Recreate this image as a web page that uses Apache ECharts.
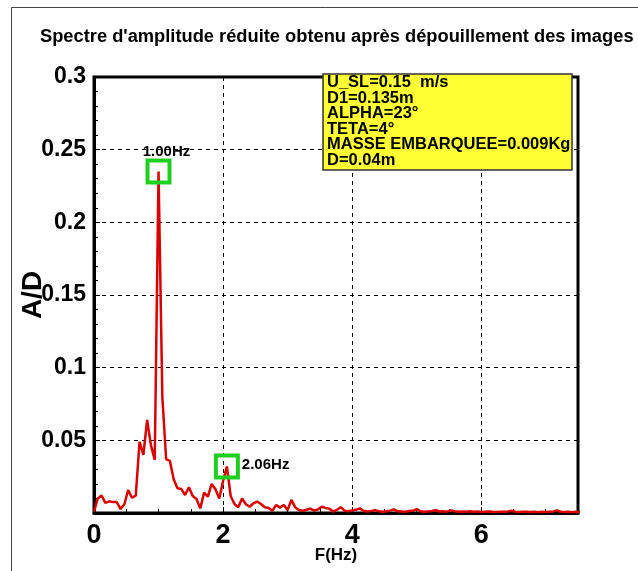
<!DOCTYPE html>
<html>
<head>
<meta charset="utf-8">
<script src="https://cdn.jsdelivr.net/npm/echarts@6/dist/echarts.min.js"></script>
<style>
  html, body { margin: 0; padding: 0; background: #fff; }
  #chart { width: 638px; height: 571px; }
</style>
</head>
<body>
<div id="chart"></div>
<script>
// Spectrum sampled every 1/17 Hz
const DF = 1 / 17;
const amplitude = [
  0.001, 0.010, 0.012, 0.007, 0.008, 0.0075, 0.0075, 0.0027, 0.006, 0.0158,
  0.0105, 0.012, 0.049, 0.040, 0.064, 0.0465, 0.0366, 0.235, 0.08, 0.037,
  0.0358, 0.023, 0.017, 0.0165, 0.0124, 0.0177, 0.0117, 0.0096, 0.0032, 0.014,
  0.0112, 0.020, 0.0163, 0.010, 0.022, 0.032, 0.0117, 0.0062, 0.0039, 0.010,
  0.006, 0.0043, 0.0067, 0.0078, 0.0062, 0.004, 0.0035, 0.0016, 0.0055, 0.0037,
  0.0055, 0.002, 0.009, 0.0039, 0.002, 0.0016, 0.0022, 0.003, 0.0016, 0.0025,
  0.0043, 0.0035, 0.003, 0.001, 0.0022, 0.004, 0.0016, 0.0012, 0.0018, 0.0022,
  0.0032, 0.0015, 0.001, 0.0013, 0.002, 0.0012, 0.0009, 0.0012, 0.0016, 0.0025,
  0.0012, 0.001, 0.0008, 0.0014, 0.0015, 0.0027, 0.0012, 0.0008, 0.0011, 0.0014,
  0.0019, 0.001, 0.0012, 0.0009, 0.0018, 0.0012, 0.0008, 0.001, 0.0009, 0.0012,
  0.0008, 0.001, 0.0007, 0.0009, 0.0011, 0.0008, 0.0007, 0.0009, 0.0008, 0.0011,
  0.0015, 0.0009, 0.0007, 0.0008, 0.0009, 0.0007, 0.0008, 0.0006, 0.0008, 0.0007,
  0.0009, 0.0011, 0.0017, 0.0009, 0.0007, 0.0008, 0.0006, 0.0008, 0.0007
];
// Indices of the highlighted peaks
const peakIndex = [17, 35];
const xTicks = [0, 2, 4, 6];
const yTicks = [0.05, 0.1, 0.15, 0.2, 0.25, 0.3];
const infoLines = [
  'U_SL=0.15  m/s',
  'D1=0.135m',
  'ALPHA=23°',
  'TETA=4°',
  'MASSE EMBARQUEE=0.009Kg',
  'D=0.04m'
];

const FONT = '"Liberation Sans", Arial, sans-serif';
const lineData = amplitude.map((a, i) => [i * DF, a]);

const peakLabelStyle = { fontFamily: FONT, fontSize: 15, fontWeight: 'bold', color: '#000' };
const peakLabelPlacement = [
  { position: 'top', distance: -1, offset: [8, 0] },
  { position: 'right', distance: 2, offset: [0, -2] }
];
const peakData = peakIndex.map((i, k) => ({
  value: [i * DF, amplitude[i]],
  label: Object.assign({
    show: true,
    formatter: (i * DF).toFixed(2) + 'Hz'
  }, peakLabelStyle, peakLabelPlacement[k])
}));

const chart = echarts.init(document.getElementById('chart'), null, { renderer: 'canvas' });
chart.setOption({
  backgroundColor: '#fff',
  animation: false,
  title: {
    text: "Spectre d'amplitude réduite obtenu après dépouillement des images",
    left: 35,
    top: 23,
    textStyle: { fontFamily: FONT, fontSize: 18.3, fontWeight: 'bold', color: '#000' }
  },
  grid: {
    left: 94, right: 60, top: 77, bottom: 58,
    outerBoundsMode: 'none',
    containLabel: false,
    show: true, borderColor: '#000', borderWidth: 3, backgroundColor: 'transparent'
  },
  xAxis: {
    type: 'value', min: 0, max: 7.5, interval: 2,
    name: 'F(Hz)', nameLocation: 'middle', nameGap: 34, nameMoveOverlap: false,
    nameTextStyle: { fontFamily: FONT, fontSize: 17, fontWeight: 'bold', color: '#000' },
    axisLine: { show: true, lineStyle: { color: '#000', width: 3 } },
    axisTick: { show: true, inside: true, length: 6, lineStyle: { color: '#000', width: 1 } },
    minorTick: { show: true, splitNumber: 4, length: 4, lineStyle: { color: '#000', width: 1 } },
    axisLabel: {
      fontFamily: FONT, fontSize: 27, fontWeight: 'bold', color: '#000', margin: 9,
      formatter: v => (xTicks.includes(v) ? String(v) : '')
    },
    splitLine: { show: true, lineStyle: { color: '#000', type: [4, 4], width: 1 } }
  },
  yAxis: {
    type: 'value', min: 0, max: 0.3, interval: 0.05,
    name: 'A/D', nameLocation: 'middle', nameGap: 47, nameRotate: 90, nameMoveOverlap: false,
    nameTextStyle: { fontFamily: FONT, fontSize: 28, fontWeight: 'bold', color: '#000' },
    axisLine: { show: true, lineStyle: { color: '#000', width: 3 } },
    axisTick: { show: true, inside: true, length: 6, lineStyle: { color: '#000', width: 1 } },
    minorTick: { show: true, splitNumber: 5, length: 4, lineStyle: { color: '#000', width: 1 } },
    axisLabel: {
      fontFamily: FONT, fontSize: 23, fontWeight: 'bold', color: '#000', margin: 8,
      formatter: v => (yTicks.some(t => Math.abs(t - v) < 1e-9) ? String(+v.toFixed(2)) : '')
    },
    splitLine: { show: true, lineStyle: { color: '#000', type: [4, 4], width: 1 } }
  },
  series: [
    {
      type: 'line',
      data: lineData,
      showSymbol: false,
      clip: true,
      lineStyle: { color: '#d80000', width: 2.5 },
      z: 3
    },
    {
      type: 'scatter',
      data: peakData,
      symbol: 'rect',
      symbolSize: 22,
      itemStyle: { color: 'rgba(0,0,0,0)', borderColor: '#1fcf1f', borderWidth: 4, opacity: 1 },
      z: 4,
      emphasis: { disabled: true }
    }
  ],
  graphic: [
    {
      type: 'rect',
      silent: true,
      shape: { x: 11.5, y: 7.5, width: 700, height: 700 },
      style: { fill: 'none', stroke: '#444', lineWidth: 1 },
      z: 0
    },
    {
      type: 'rect',
      silent: true,
      z: 100,
      shape: { x: 323, y: 74, width: 249, height: 96 },
      style: { fill: '#ffff33', stroke: '#333', lineWidth: 1.5 }
    },
    {
      type: 'text',
      silent: true,
      z: 101,
      x: 327, y: 75,
      style: {
        text: infoLines.join('\n'),
        font: 'bold 16.5px ' + FONT,
        lineHeight: 15.5,
        fill: '#000'
      }
    }
  ]
});
</script>
</body>
</html>
